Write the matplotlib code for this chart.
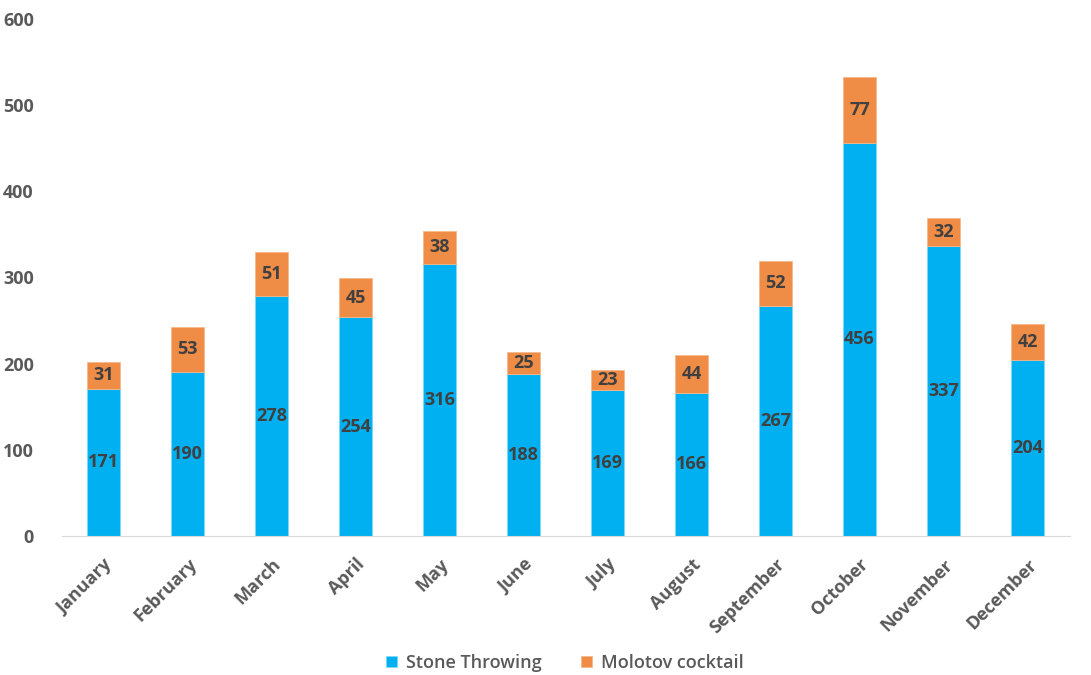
import matplotlib
matplotlib.use("Agg")
import matplotlib.pyplot as plt

months = ["January", "February", "March", "April", "May", "June", "July",
          "August", "September", "October", "November", "December"]
stone = [171, 190, 278, 254, 316, 188, 169, 166, 267, 456, 337, 204]
molotov = [31, 53, 51, 45, 38, 25, 23, 44, 52, 77, 32, 42]

blue = "#00B0F0"
orange = "#EF8C46"
gray = "#595959"

plt.rcParams["font.family"] = ["Open Sans", "DejaVu Sans"]

fig = plt.figure(figsize=(10.91, 6.75), dpi=100)
ax = fig.add_axes([0.0564, 0.206, 0.924, 0.766])

x = range(len(months))
b1 = ax.bar(x, stone, width=0.4, color=blue, edgecolor="#7FD7F7", linewidth=0.6,
            label="Stone Throwing")
b2 = ax.bar(x, molotov, width=0.4, bottom=stone, color=orange, edgecolor="#F5B88D",
            linewidth=0.6, label="Molotov cocktail")

ax.bar_label(b1, label_type="center", fontsize=13, fontweight="bold", color="#404040")
ax.bar_label(b2, label_type="center", fontsize=13, fontweight="bold", color="#404040")

ax.set_xlim(-0.5, len(months) - 0.5)
ax.set_ylim(0, 600)
ax.set_yticks(range(0, 601, 100))
ax.set_xticks(list(x))
ax.set_xticklabels(months, rotation=45, ha="right", rotation_mode="anchor")

for s in ["top", "right", "left"]:
    ax.spines[s].set_visible(False)
ax.spines["bottom"].set_color("#D9D9D9")
ax.tick_params(axis="both", length=0, labelsize=13, labelcolor=gray)
ax.tick_params(axis="x", pad=14)
ax.tick_params(axis="y", pad=20)
for lbl in ax.get_xticklabels() + ax.get_yticklabels():
    lbl.set_fontweight("bold")

leg = fig.legend(handles=[b1, b2], loc="center", ncol=2, frameon=False,
                 bbox_to_anchor=(0.518, 0.018), fontsize=13, handlelength=0.6,
                 handleheight=0.6, columnspacing=2.2, handletextpad=0.5)
for t in leg.get_texts():
    t.set_color(gray)
    t.set_fontweight("semibold")

fig.savefig("out.png", dpi=100)
